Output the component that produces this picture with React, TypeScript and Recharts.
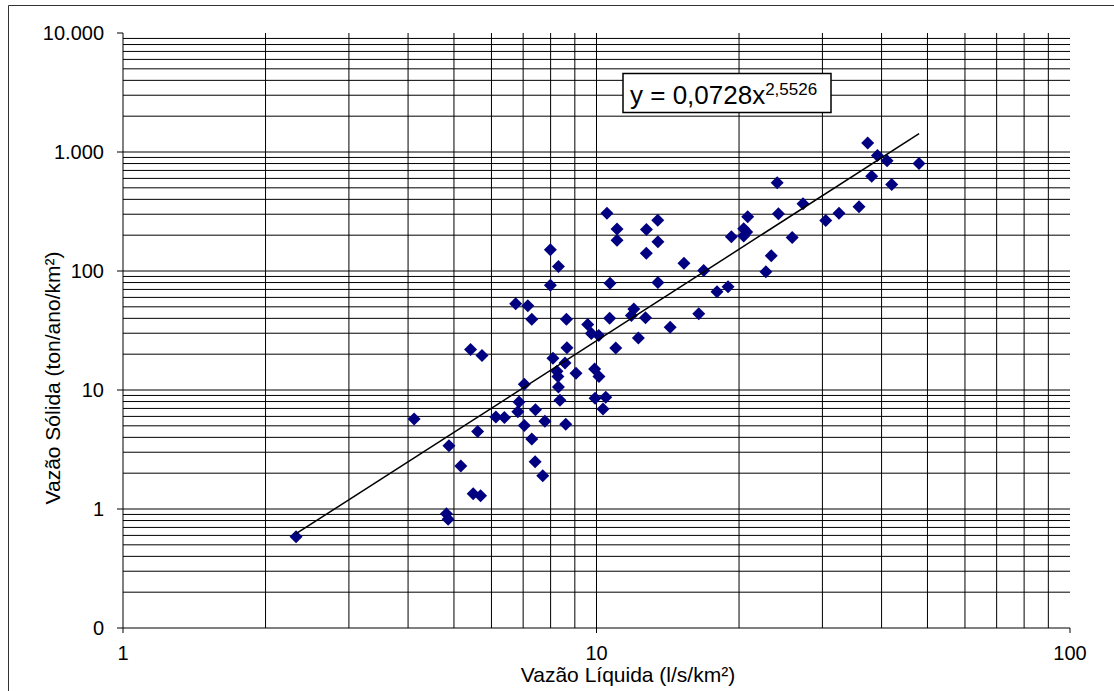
import React from 'react';
import { ScatterChart, Scatter, XAxis, YAxis, CartesianGrid } from 'recharts';

// Vazão Líquida (l/s/km²) — x values
const vazaoLiquida = [
  2.32, 4.12, 4.82, 4.86, 4.88, 5.17, 5.42, 5.73, 5.49, 5.69,
  5.61, 6.13, 6.39, 6.75, 7.16, 11.05, 12.75, 11.05, 13.48, 7.99,
  12.74, 8.31, 15.3, 7.99, 10.68, 13.48, 7.3, 8.64, 10.66, 11.99,
  11.85, 12.69, 16.44, 9.58, 9.75, 10.11, 14.31, 12.26, 10.98, 8.66,
  8.09, 8.58, 8.25, 9.05, 9.91, 10.12, 8.29, 7.04, 8.31, 8.37,
  9.93, 10.46, 10.32, 6.86, 6.82, 7.43, 7.78, 7.04, 8.61, 7.3,
  7.42, 7.7, 10.52, 13.47, 24.08, 24.22, 20.86, 19.27, 20.46, 20.76,
  20.46, 25.9, 23.39, 22.79, 16.84, 17.97, 18.96, 27.3, 30.49, 32.52,
  35.84, 37.39, 39.2, 41.08, 47.98, 38.12, 42.02,
];

// Vazão Sólida (ton/ano/km²) — y values
const vazaoSolida = [
  0.585, 5.7, 0.91, 0.82, 3.4, 2.3, 21.9, 19.5, 1.34, 1.29,
  4.47, 5.94, 5.86, 53, 51, 225, 223, 181, 176, 151,
  141, 109, 116, 76, 79, 80, 39.3, 39.3, 40.1, 47.9,
  42.2, 40.4, 43.7, 35.5, 29.8, 28.7, 33.7, 27.4, 22.5, 22.6,
  18.5, 16.9, 14.4, 13.8, 15.0, 13.0, 13.0, 11.2, 10.6, 8.19,
  8.51, 8.68, 6.93, 7.94, 6.58, 6.84, 5.46, 5.02, 5.15, 3.88,
  2.49, 1.9, 305, 267, 552, 303, 286, 194, 226, 213,
  197, 191, 134, 98.5, 101, 66.8, 73.6, 367, 266, 305,
  347, 1188, 936, 845, 802, 627, 534,
];

// Power trend line y = 0,0728x^2,5526 (end points)
const trendX = [2.32, 48];
const trendY = [0.62, 1426];

const xTicks = [1, 10, 100];
const yTicks = [0.1, 1, 10, 100, 1000, 10000];
const gridSteps = [1, 2, 3, 4, 5, 6, 7, 8, 9];
const yGridDecades = [0.1, 1, 10, 100, 1000];
const xGridDecades = [1, 10];

const points = vazaoLiquida.map((x, i) => ({ x, y: vazaoSolida[i] }));
const trend = trendX.map((x, i) => ({ x, y: trendY[i] }));
const hGrid = yGridDecades
  .flatMap((d) => gridSteps.map((s) => +(d * s).toPrecision(6)))
  .filter((v) => v > 0.1);
const vGrid = xGridDecades
  .flatMap((d) => gridSteps.map((s) => +(d * s).toPrecision(6)))
  .filter((v) => v > 1);

const FONT = '"Liberation Sans", Arial, sans-serif';

const fmtY = (v: number) => {
  if (v < 1) return '0';
  return String(v).replace(/\B(?=(\d{3})+(?!\d))/g, '.');
};

const Diamond = (props: any) => {
  const { cx, cy } = props;
  if (cx == null || cy == null) return <g />;
  const r = 6.5;
  return (
    <path
      d={`M${cx},${cy - r}L${cx + r},${cy}L${cx},${cy + r}L${cx - r},${cy}Z`}
      fill="#000080"
    />
  );
};

export default function App() {
  return (
    <div
      style={{
        position: 'absolute',
        left: 0,
        top: 0,
        width: 1114,
        height: 691,
        background: '#fff',
        fontFamily: FONT,
      }}
    >
      <ScatterChart
        width={1114}
        height={691}
        margin={{ top: 33, right: 44, bottom: 0, left: 0 }}
        style={{ fontFamily: FONT }}
      >
        <CartesianGrid
          horizontalValues={hGrid}
          verticalValues={vGrid}
          stroke="#000"
          strokeWidth={1}
        />
        <XAxis
          type="number"
          dataKey="x"
          scale="log"
          domain={[1, 100]}
          allowDataOverflow
          ticks={xTicks}
          height={63}
          tickSize={5}
          tickMargin={13}
          axisLine={{ stroke: '#000', strokeWidth: 1 }}
          tickLine={{ stroke: '#000', strokeWidth: 1 }}
          tick={{ fill: '#000', fontSize: 20, fontFamily: FONT }}
          interval={0}
        />
        <YAxis
          type="number"
          dataKey="y"
          scale="log"
          domain={[0.1, 10000]}
          allowDataOverflow
          ticks={yTicks}
          width={123}
          tickSize={6}
          tickMargin={13}
          tickFormatter={fmtY}
          axisLine={{ stroke: '#000', strokeWidth: 1 }}
          tickLine={{ stroke: '#000', strokeWidth: 1 }}
          tick={{ fill: '#000', fontSize: 20, fontFamily: FONT }}
          interval={0}
        />
        <Scatter
          data={points}
          shape={Diamond}
          isAnimationActive={false}
        />
        <Scatter
          data={trend}
          shape={() => <g />}
          line={{ stroke: '#000', strokeWidth: 1.5 }}
          isAnimationActive={false}
        />
      </ScatterChart>
      <svg
        width={1114}
        height={691}
        style={{ position: 'absolute', left: 0, top: 0, pointerEvents: 'none' }}
      >
        <line x1={8.5} y1={5.5} x2={1114} y2={5.5} stroke="#333" strokeWidth={1} />
        <line x1={8.5} y1={5.5} x2={8.5} y2={691} stroke="#333" strokeWidth={1} />
        <rect x={623} y={73.5} width={208} height={39} fill="#fff" stroke="#000" strokeWidth={1.5} />
        <text x={630} y={103.5} fontSize={26} fontFamily={FONT} fill="#000">
          y = 0,0728x
          <tspan fontSize={17} dy={-9}>2,5526</tspan>
        </text>
        <text
          x={60}
          y={378}
          fontSize={21}
          fontFamily={FONT}
          fill="#000"
          textAnchor="middle"
          transform="rotate(-90, 60, 378)"
        >
          Vazão Sólida (ton/ano/km²)
        </text>
        <text x={628} y={682} fontSize={21} fontFamily={FONT} fill="#000" textAnchor="middle">
          Vazão Líquida (l/s/km²)
        </text>
      </svg>
    </div>
  );
}
